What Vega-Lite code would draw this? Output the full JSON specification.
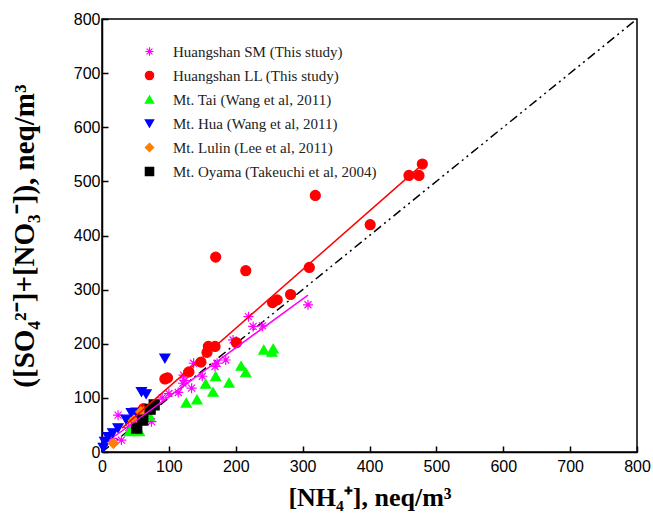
{
  "$schema": "https://vega.github.io/schema/vega-lite/v6.json",
  "width": 535,
  "height": 433,
  "autosize": {"type": "none"},
  "padding": {"left": 102, "top": 19, "right": 16, "bottom": 75},
  "background": "white",
  "config": {
    "view": {"stroke": "black", "strokeWidth": 1.5},
    "axis": {
      "grid": false,
      "domainColor": "black",
      "domainWidth": 1.5,
      "tickColor": "black",
      "tickWidth": 1.5,
      "labelFont": "Liberation Sans",
      "labelFontSize": 16,
      "labelColor": "black",
      "labelFlush": false,
      "labelOverlap": false,
      "titleFont": "Liberation Serif",
      "titleFontSize": 26,
      "titleFontWeight": "bold",
      "titleColor": "black"
    }
  },
  "datasets": {
    "pts": [
      {"s": "Huangshan SM (This study)", "x": 15, "y": 25},
      {"s": "Huangshan SM (This study)", "x": 29, "y": 22},
      {"s": "Huangshan SM (This study)", "x": 24, "y": 68},
      {"s": "Huangshan SM (This study)", "x": 40, "y": 45},
      {"s": "Huangshan SM (This study)", "x": 55, "y": 60},
      {"s": "Huangshan SM (This study)", "x": 74, "y": 56},
      {"s": "Huangshan SM (This study)", "x": 90, "y": 100},
      {"s": "Huangshan SM (This study)", "x": 100, "y": 108},
      {"s": "Huangshan SM (This study)", "x": 114, "y": 110},
      {"s": "Huangshan SM (This study)", "x": 121, "y": 127},
      {"s": "Huangshan SM (This study)", "x": 124, "y": 132},
      {"s": "Huangshan SM (This study)", "x": 134, "y": 118},
      {"s": "Huangshan SM (This study)", "x": 122, "y": 142},
      {"s": "Huangshan SM (This study)", "x": 137, "y": 164},
      {"s": "Huangshan SM (This study)", "x": 150, "y": 140},
      {"s": "Huangshan SM (This study)", "x": 169, "y": 158},
      {"s": "Huangshan SM (This study)", "x": 172, "y": 164},
      {"s": "Huangshan SM (This study)", "x": 185, "y": 170},
      {"s": "Huangshan SM (This study)", "x": 196, "y": 207},
      {"s": "Huangshan SM (This study)", "x": 219, "y": 250},
      {"s": "Huangshan SM (This study)", "x": 226, "y": 232},
      {"s": "Huangshan SM (This study)", "x": 240, "y": 233},
      {"s": "Huangshan SM (This study)", "x": 308, "y": 272},
      {"s": "Huangshan LL  (This study)", "x": 62, "y": 80},
      {"s": "Huangshan LL  (This study)", "x": 94, "y": 135},
      {"s": "Huangshan LL  (This study)", "x": 98, "y": 137},
      {"s": "Huangshan LL  (This study)", "x": 130, "y": 148},
      {"s": "Huangshan LL  (This study)", "x": 148, "y": 166},
      {"s": "Huangshan LL  (This study)", "x": 157, "y": 184},
      {"s": "Huangshan LL  (This study)", "x": 159, "y": 195},
      {"s": "Huangshan LL  (This study)", "x": 169, "y": 195},
      {"s": "Huangshan LL  (This study)", "x": 170, "y": 360},
      {"s": "Huangshan LL  (This study)", "x": 201, "y": 202},
      {"s": "Huangshan LL  (This study)", "x": 215, "y": 335},
      {"s": "Huangshan LL  (This study)", "x": 255, "y": 276},
      {"s": "Huangshan LL  (This study)", "x": 262, "y": 281},
      {"s": "Huangshan LL  (This study)", "x": 282, "y": 291},
      {"s": "Huangshan LL  (This study)", "x": 310, "y": 341},
      {"s": "Huangshan LL  (This study)", "x": 319, "y": 474},
      {"s": "Huangshan LL  (This study)", "x": 401, "y": 420},
      {"s": "Huangshan LL  (This study)", "x": 459, "y": 511},
      {"s": "Huangshan LL  (This study)", "x": 474, "y": 511},
      {"s": "Huangshan LL  (This study)", "x": 479, "y": 532},
      {"s": "Mt. Tai (Wang et al, 2011)", "x": 41, "y": 38},
      {"s": "Mt. Tai (Wang et al, 2011)", "x": 56, "y": 38},
      {"s": "Mt. Tai (Wang et al, 2011)", "x": 71, "y": 67},
      {"s": "Mt. Tai (Wang et al, 2011)", "x": 126, "y": 91},
      {"s": "Mt. Tai (Wang et al, 2011)", "x": 142, "y": 97},
      {"s": "Mt. Tai (Wang et al, 2011)", "x": 155, "y": 126},
      {"s": "Mt. Tai (Wang et al, 2011)", "x": 166, "y": 111},
      {"s": "Mt. Tai (Wang et al, 2011)", "x": 170, "y": 140},
      {"s": "Mt. Tai (Wang et al, 2011)", "x": 190, "y": 128},
      {"s": "Mt. Tai (Wang et al, 2011)", "x": 208, "y": 159},
      {"s": "Mt. Tai (Wang et al, 2011)", "x": 215, "y": 147},
      {"s": "Mt. Tai (Wang et al, 2011)", "x": 242, "y": 189},
      {"s": "Mt. Tai (Wang et al, 2011)", "x": 254, "y": 185},
      {"s": "Mt. Tai (Wang et al, 2011)", "x": 256, "y": 191},
      {"s": "Mt. Hua (Wang et al, 2011)", "x": 2, "y": 8},
      {"s": "Mt. Hua (Wang et al, 2011)", "x": 4, "y": 19},
      {"s": "Mt. Hua (Wang et al, 2011)", "x": 9, "y": 28},
      {"s": "Mt. Hua (Wang et al, 2011)", "x": 16, "y": 35},
      {"s": "Mt. Hua (Wang et al, 2011)", "x": 24, "y": 44},
      {"s": "Mt. Hua (Wang et al, 2011)", "x": 36, "y": 60},
      {"s": "Mt. Hua (Wang et al, 2011)", "x": 44, "y": 72},
      {"s": "Mt. Hua (Wang et al, 2011)", "x": 51, "y": 73},
      {"s": "Mt. Hua (Wang et al, 2011)", "x": 59, "y": 111},
      {"s": "Mt. Hua (Wang et al, 2011)", "x": 66, "y": 107},
      {"s": "Mt. Hua (Wang et al, 2011)", "x": 94, "y": 173},
      {"s": "Mt. Lulin (Lee et al, 2011)", "x": 17, "y": 16},
      {"s": "Mt. Lulin (Lee et al, 2011)", "x": 47, "y": 58},
      {"s": "Mt. Lulin (Lee et al, 2011)", "x": 58, "y": 74},
      {"s": "Mt. Lulin (Lee et al, 2011)", "x": 66, "y": 78},
      {"s": "Mt. Oyama (Takeuchi et al, 2004)", "x": 52, "y": 44},
      {"s": "Mt. Oyama (Takeuchi et al, 2004)", "x": 61, "y": 59},
      {"s": "Mt. Oyama (Takeuchi et al, 2004)", "x": 72, "y": 79},
      {"s": "Mt. Oyama (Takeuchi et al, 2004)", "x": 78, "y": 87}
    ],
    "fits": [
      {"s": "Huangshan SM (This study)", "x": 20, "y": 30},
      {"s": "Huangshan SM (This study)", "x": 308, "y": 290},
      {"s": "Huangshan LL  (This study)", "x": 30, "y": 44},
      {"s": "Huangshan LL  (This study)", "x": 478, "y": 530}
    ],
    "oneone": [
      {"x": 0, "y": 0},
      {"x": 800, "y": 800}
    ]
  },
  "layer": [
    {
      "data": {"name": "oneone"},
      "mark": {"type": "line", "color": "black", "strokeWidth": 1.5, "strokeDash": [9, 4, 2, 4, 2, 4]},
      "encoding": {
        "x": {"field": "x", "type": "quantitative", "scale": {"domain": [0, 800], "nice": false},
          "axis": {"values": [0,50,100,150,200,250,300,350,400,450,500,550,600,650,700,750,800],
            "labelExpr": "datum.value % 100 === 0 ? datum.label : ''",
            "tickSize": {"condition": {"test": "datum.value % 100 === 0", "value": -6}, "value": -3},
            "labelPadding": 12,
            "title": "[NH₄⁺], neq/m³", "titlePadding": 10}},
        "y": {"field": "y", "type": "quantitative", "scale": {"domain": [0, 800], "nice": false},
          "axis": {"values": [0,50,100,150,200,250,300,350,400,450,500,550,600,650,700,750,800],
            "labelExpr": "datum.value % 100 === 0 ? datum.label : ''",
            "tickSize": {"condition": {"test": "datum.value % 100 === 0", "value": -6}, "value": -3},
            "labelPadding": 8,
            "title": "([SO₄²⁻]+[NO₃⁻]), neq/m³", "titleFontSize": 29, "titlePadding": 34}}
      }
    },
    {
      "data": {"name": "pts"},
      "mark": {"type": "point", "opacity": 1, "strokeWidth": 1.2},
      "encoding": {
        "x": {"field": "x", "type": "quantitative"},
        "y": {"field": "y", "type": "quantitative"},
        "fill": {"field": "s", "type": "nominal",
          "scale": {"domain": ["Huangshan SM (This study)", "Huangshan LL  (This study)", "Mt. Tai (Wang et al, 2011)", "Mt. Hua (Wang et al, 2011)", "Mt. Lulin (Lee et al, 2011)", "Mt. Oyama (Takeuchi et al, 2004)"],
            "range": ["#FF00FF", "#FF0000", "#00FF00", "#0000FF", "#FF8000", "#000000"]},
          "legend": {"title": null, "orient": "none", "legendX": 40, "legendY": 25,
            "labelFont": "Liberation Serif", "labelFontSize": 15, "labelColor": "#222222", "labelLimit": 400,
            "symbolSize": 70, "rowPadding": 8, "labelOffset": 16, "symbolStrokeWidth": 1.2}},
        "stroke": {"field": "s", "type": "nominal",
          "scale": {"domain": ["Huangshan SM (This study)", "Huangshan LL  (This study)", "Mt. Tai (Wang et al, 2011)", "Mt. Hua (Wang et al, 2011)", "Mt. Lulin (Lee et al, 2011)", "Mt. Oyama (Takeuchi et al, 2004)"],
            "range": ["#FF00FF", "#FF0000", "#00FF00", "#0000FF", "#FF8000", "#000000"]}},
        "shape": {"field": "s", "type": "nominal",
          "scale": {"domain": ["Huangshan SM (This study)", "Huangshan LL  (This study)", "Mt. Tai (Wang et al, 2011)", "Mt. Hua (Wang et al, 2011)", "Mt. Lulin (Lee et al, 2011)", "Mt. Oyama (Takeuchi et al, 2004)"],
            "range": ["M-1,0L1,0M0,-1L0,1M-0.7,-0.7L0.7,0.7M-0.7,0.7L0.7,-0.7", "circle", "triangle-up", "triangle-down", "diamond", "square"]}},
        "size": {"value": 100}
      }
    },
    {
      "data": {"name": "fits"},
      "mark": {"type": "line", "strokeWidth": 1.5},
      "encoding": {
        "x": {"field": "x", "type": "quantitative"},
        "y": {"field": "y", "type": "quantitative"},
        "detail": {"field": "s", "type": "nominal"},
        "color": {"field": "s", "type": "nominal", "legend": null,
          "scale": {"domain": ["Huangshan SM (This study)", "Huangshan LL  (This study)"], "range": ["#FF00FF", "#FF0000"]}}
      }
    }
  ],
  "resolve": {"scale": {"color": "independent"}}
}
